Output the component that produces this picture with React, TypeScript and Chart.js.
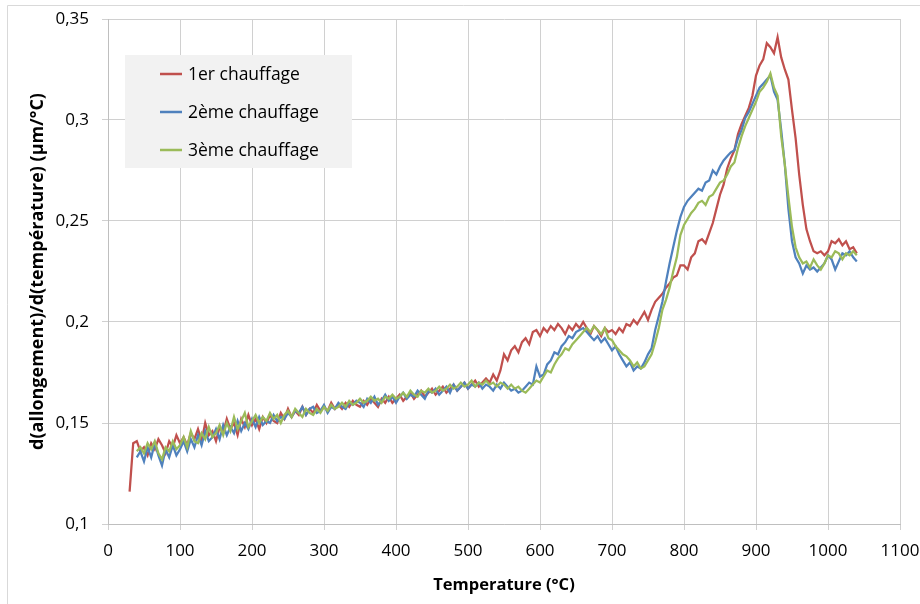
import React, { useEffect, useRef } from "react";
import { Chart, registerables } from "chart.js";

Chart.register(...registerables);

// Temperature (°C), shared by every series
const temperatures = [
  30, 35, 40, 45, 50, 55, 60, 65, 70, 75,
  80, 85, 90, 95, 100, 105, 110, 115, 120, 125,
  130, 135, 140, 145, 150, 155, 160, 165, 170, 175,
  180, 185, 190, 195, 200, 205, 210, 215, 220, 225,
  230, 235, 240, 245, 250, 255, 260, 265, 270, 275,
  280, 285, 290, 295, 300, 305, 310, 315, 320, 325,
  330, 335, 340, 345, 350, 355, 360, 365, 370, 375,
  380, 385, 390, 395, 400, 405, 410, 415, 420, 425,
  430, 435, 440, 445, 450, 455, 460, 465, 470, 475,
  480, 485, 490, 495, 500, 505, 510, 515, 520, 525,
  530, 535, 540, 545, 550, 555, 560, 565, 570, 575,
  580, 585, 590, 595, 600, 605, 610, 615, 620, 625,
  630, 635, 640, 645, 650, 655, 660, 665, 670, 675,
  680, 685, 690, 695, 700, 705, 710, 715, 720, 725,
  730, 735, 740, 745, 750, 755, 760, 765, 770, 775,
  780, 785, 790, 795, 800, 805, 810, 815, 820, 825,
  830, 835, 840, 845, 850, 855, 860, 865, 870, 875,
  880, 885, 890, 895, 900, 905, 910, 915, 920, 925,
  930, 935, 940, 945, 950, 955, 960, 965, 970, 975,
  980, 985, 990, 995, 1000, 1005, 1010, 1015, 1020, 1025,
  1030, 1035, 1040,
];

// 1er chauffage (30..1040)
const chauffage1 = [
  0.116, 0.140, 0.141, 0.136, 0.138, 0.134, 0.140, 0.137, 0.142, 0.139,
  0.135, 0.141, 0.138, 0.144, 0.140, 0.143, 0.139, 0.145, 0.142, 0.147,
  0.141, 0.150, 0.144, 0.146, 0.141, 0.148, 0.145, 0.152, 0.147, 0.150,
  0.144, 0.152, 0.148, 0.154, 0.149, 0.152, 0.147, 0.153, 0.150, 0.154,
  0.151, 0.150, 0.155, 0.152, 0.157, 0.153, 0.156, 0.154, 0.158, 0.154,
  0.157, 0.155, 0.159, 0.156, 0.158, 0.156, 0.160, 0.157, 0.159, 0.157,
  0.160, 0.158, 0.161, 0.159, 0.158, 0.161, 0.159, 0.162, 0.160, 0.158,
  0.162, 0.160, 0.163, 0.160, 0.162, 0.164, 0.161, 0.163, 0.165, 0.162,
  0.164, 0.166, 0.163, 0.165, 0.167, 0.164, 0.166, 0.168, 0.165, 0.167,
  0.169, 0.166, 0.168, 0.170, 0.167, 0.169, 0.171, 0.168, 0.170, 0.172,
  0.170, 0.174, 0.171, 0.176, 0.184, 0.181, 0.186, 0.188, 0.185, 0.190,
  0.192, 0.189, 0.195, 0.196, 0.193, 0.197, 0.195, 0.198, 0.196, 0.199,
  0.197, 0.194, 0.198, 0.196, 0.199, 0.197, 0.200, 0.197, 0.194, 0.198,
  0.196, 0.193, 0.197, 0.195, 0.196, 0.194, 0.197, 0.195, 0.199, 0.198,
  0.201, 0.199, 0.202, 0.205, 0.201, 0.206, 0.210, 0.212, 0.214, 0.217,
  0.219, 0.222, 0.223, 0.228, 0.228, 0.226, 0.232, 0.234, 0.240, 0.241,
  0.239, 0.244, 0.249, 0.256, 0.263, 0.268, 0.276, 0.281, 0.285, 0.293,
  0.298, 0.302, 0.306, 0.312, 0.322, 0.327, 0.330, 0.338, 0.336, 0.333,
  0.341, 0.331, 0.325, 0.320, 0.305, 0.291, 0.273, 0.258, 0.246, 0.240,
  0.235, 0.234, 0.235, 0.233, 0.235, 0.240, 0.239, 0.241, 0.238, 0.240,
  0.236, 0.237, 0.234,
];

// 2ème chauffage (starts at 40)
const chauffage2 = [
  null, null,
  0.133, 0.136, 0.131, 0.138, 0.133, 0.140, 0.134, 0.129, 0.137, 0.133,
  0.139, 0.134, 0.137, 0.141, 0.136, 0.142, 0.138, 0.144, 0.139, 0.146,
  0.141, 0.143, 0.147, 0.142, 0.149, 0.144, 0.148, 0.145, 0.151, 0.146,
  0.150, 0.147, 0.152, 0.148, 0.153, 0.149, 0.151, 0.150, 0.154, 0.151,
  0.153, 0.152, 0.155, 0.153, 0.156, 0.155, 0.158, 0.154, 0.157, 0.158,
  0.155, 0.156, 0.159, 0.155, 0.158, 0.157, 0.160, 0.158, 0.157, 0.160,
  0.159, 0.161, 0.160, 0.158, 0.162, 0.160, 0.163, 0.159, 0.161, 0.164,
  0.161, 0.163, 0.160, 0.163, 0.165, 0.162, 0.164, 0.163, 0.166, 0.164,
  0.162, 0.166, 0.165, 0.167, 0.164, 0.166, 0.168, 0.165, 0.169, 0.166,
  0.168, 0.170, 0.167, 0.169, 0.168, 0.170, 0.167, 0.169, 0.168, 0.166,
  0.169, 0.167, 0.170, 0.168, 0.166, 0.167, 0.165, 0.166, 0.168, 0.170,
  0.169, 0.178, 0.173, 0.174, 0.179, 0.181, 0.185, 0.184, 0.188, 0.190,
  0.193, 0.192, 0.195, 0.196, 0.197, 0.195, 0.193, 0.191, 0.193, 0.190,
  0.192, 0.189, 0.186, 0.188, 0.184, 0.181, 0.178, 0.180, 0.176, 0.178,
  0.177, 0.180, 0.184, 0.187, 0.196, 0.203, 0.210, 0.220, 0.229, 0.237,
  0.245, 0.252, 0.257, 0.260, 0.262, 0.264, 0.266, 0.265, 0.269, 0.270,
  0.275, 0.273, 0.277, 0.280, 0.282, 0.284, 0.285, 0.291, 0.295, 0.301,
  0.304, 0.308, 0.312, 0.316, 0.318, 0.320, 0.322, 0.314, 0.310, 0.295,
  0.278, 0.256, 0.240, 0.232, 0.229, 0.224, 0.228, 0.226, 0.227, 0.225,
  0.227, 0.229, 0.233, 0.231, 0.226, 0.230, 0.234, 0.233, 0.235, 0.232,
  0.230,
];

// 3ème chauffage (starts at 40)
const chauffage3 = [
  null, null,
  0.136, 0.138, 0.135, 0.140, 0.137, 0.141, 0.135, 0.132, 0.138, 0.136,
  0.141, 0.137, 0.139, 0.143, 0.138, 0.146, 0.141, 0.140, 0.145, 0.142,
  0.148, 0.143, 0.145, 0.149, 0.144, 0.150, 0.146, 0.153, 0.147, 0.151,
  0.155, 0.148, 0.151, 0.154, 0.150, 0.153, 0.151, 0.155, 0.152, 0.154,
  0.150, 0.154, 0.156, 0.153, 0.157, 0.155, 0.153, 0.157, 0.155, 0.154,
  0.157, 0.155, 0.158, 0.156, 0.159, 0.157, 0.158, 0.160, 0.158, 0.161,
  0.159, 0.160, 0.162, 0.160, 0.161, 0.163, 0.161, 0.162, 0.160, 0.163,
  0.162, 0.164, 0.162, 0.163, 0.165, 0.163, 0.166, 0.164, 0.163, 0.166,
  0.165, 0.167, 0.165, 0.166, 0.168, 0.166, 0.167, 0.169, 0.167, 0.168,
  0.170, 0.168, 0.169, 0.171, 0.168, 0.170, 0.169, 0.171, 0.169, 0.170,
  0.168, 0.170, 0.169, 0.167, 0.169, 0.167, 0.168, 0.166, 0.165, 0.167,
  0.169, 0.171, 0.170, 0.173, 0.176, 0.175, 0.179, 0.182, 0.184, 0.187,
  0.186, 0.189, 0.191, 0.193, 0.195, 0.197, 0.195, 0.198, 0.196, 0.194,
  0.197, 0.192, 0.191, 0.188, 0.186, 0.184, 0.183, 0.181, 0.178, 0.180,
  0.177, 0.178, 0.181, 0.184, 0.190, 0.197, 0.206, 0.211, 0.217, 0.225,
  0.232, 0.243, 0.248, 0.251, 0.254, 0.256, 0.259, 0.260, 0.258, 0.262,
  0.263, 0.266, 0.269, 0.270, 0.273, 0.277, 0.279, 0.286, 0.292, 0.297,
  0.301, 0.305, 0.309, 0.314, 0.316, 0.319, 0.323, 0.316, 0.312, 0.292,
  0.278, 0.262, 0.247, 0.237, 0.232, 0.229, 0.230, 0.227, 0.231, 0.228,
  0.226, 0.229, 0.233, 0.232, 0.235, 0.234, 0.231, 0.234, 0.233, 0.235,
  0.233,
];

const seriesLabels = ["1er chauffage", "2ème chauffage", "3ème chauffage"];
const seriesColors = ["#c0504d", "#4f81bd", "#9bbb59"];
const xTitle = "Temperature (°C)";
const yTitle = "d(allongement)/d(température) (µm/°C)";

const FONT = "'Open Sans', 'Liberation Sans', sans-serif";

function toPoints(values: (number | null)[]) {
  return temperatures.map((t, i) => ({ x: t, y: values[i] }));
}

const decorPlugin = {
  id: "decor",
  beforeDraw(chart: any) {
    const ctx = chart.ctx;
    ctx.save();
    ctx.strokeStyle = "#d9d9d9";
    ctx.lineWidth = 1;
    ctx.beginPath();
    ctx.moveTo(7.5, chart.height);
    ctx.lineTo(7.5, 5.5);
    ctx.lineTo(chart.width, 5.5);
    ctx.stroke();
    ctx.restore();
  },
  afterDraw(chart: any) {
    const ctx = chart.ctx;
    const area = chart.chartArea;
    const bx = area.left + 17;
    const by = area.top + 36;
    ctx.save();
    ctx.fillStyle = "#f2f2f2";
    ctx.fillRect(bx, by, 227, 113);
    ctx.font = `17.5px ${FONT}`;
    ctx.textBaseline = "middle";
    ctx.textAlign = "left";
    seriesLabels.forEach((label, i) => {
      const y = by + 19 + i * 38;
      ctx.strokeStyle = seriesColors[i];
      ctx.lineWidth = 2.5;
      ctx.beginPath();
      ctx.moveTo(bx + 35, y);
      ctx.lineTo(bx + 57, y);
      ctx.stroke();
      ctx.fillStyle = "#000";
      ctx.fillText(label, bx + 63, y + 1);
    });
    ctx.restore();
  },
};

export default function App() {
  const canvasRef = useRef<HTMLCanvasElement | null>(null);

  useEffect(() => {
    if (!canvasRef.current) return;
    const datasets = [chauffage1, chauffage2, chauffage3].map((vals, i) => ({
      label: seriesLabels[i],
      data: toPoints(vals),
      borderColor: seriesColors[i],
      backgroundColor: seriesColors[i],
      borderWidth: 2.25,
      pointRadius: 0,
      tension: 0,
      fill: false,
      spanGaps: false,
      order: 3 - i,
    }));
    const chart = new Chart(canvasRef.current, {
      type: "line",
      data: { datasets },
      plugins: [decorPlugin],
      options: {
        animation: false,
        responsive: false,
        devicePixelRatio: 1,
        layout: { padding: { top: 19, right: 20, left: 0, bottom: 0 } },
        plugins: {
          legend: { display: false },
          tooltip: { enabled: false },
        },
        scales: {
          x: {
            type: "linear",
            min: 0,
            max: 1100,
            afterFit: (scale: any) => {
              scale.height = 80;
              scale.paddingLeft = 0;
              scale.paddingRight = 0;
            },
            ticks: {
              stepSize: 100,
              color: "#000",
              font: { family: FONT, size: 17 },
              padding: 11,
              maxRotation: 0,
              callback: (v: any) => String(v),
            },
            grid: { color: "#d0d0d0", tickLength: 6, lineWidth: 1 },
            border: { color: "#bfbfbf" },
            title: {
              display: true,
              text: xTitle,
              color: "#000",
              font: { family: FONT, size: 16.5, weight: "bold" },
              padding: { top: 0, bottom: 9 },
            },
          },
          y: {
            type: "linear",
            min: 0.1,
            max: 0.35,
            afterFit: (scale: any) => {
              scale.width = 108;
              scale.paddingTop = 0;
              scale.paddingBottom = 0;
            },
            ticks: {
              stepSize: 0.05,
              color: "#000",
              font: { family: FONT, size: 17 },
              padding: 13,
              callback: (v: any) =>
                parseFloat(Number(v).toFixed(2)).toString().replace(".", ","),
            },
            grid: { color: "#d0d0d0", tickLength: 6, lineWidth: 1 },
            border: { color: "#bfbfbf" },
            title: {
              display: true,
              text: yTitle,
              color: "#000",
              font: { family: FONT, size: 18, weight: "bold" },
              padding: { top: 27, bottom: 0 },
            },
          },
        },
      },
    });
    return () => chart.destroy();
  }, []);

  return (
    <div
      style={{
        position: "fixed",
        left: 0,
        top: 0,
        width: 920,
        height: 604,
        background: "#fff",
      }}
    >
      <canvas
        ref={canvasRef}
        width={920}
        height={604}
        style={{ width: 920, height: 604, display: "block" }}
      />
    </div>
  );
}
